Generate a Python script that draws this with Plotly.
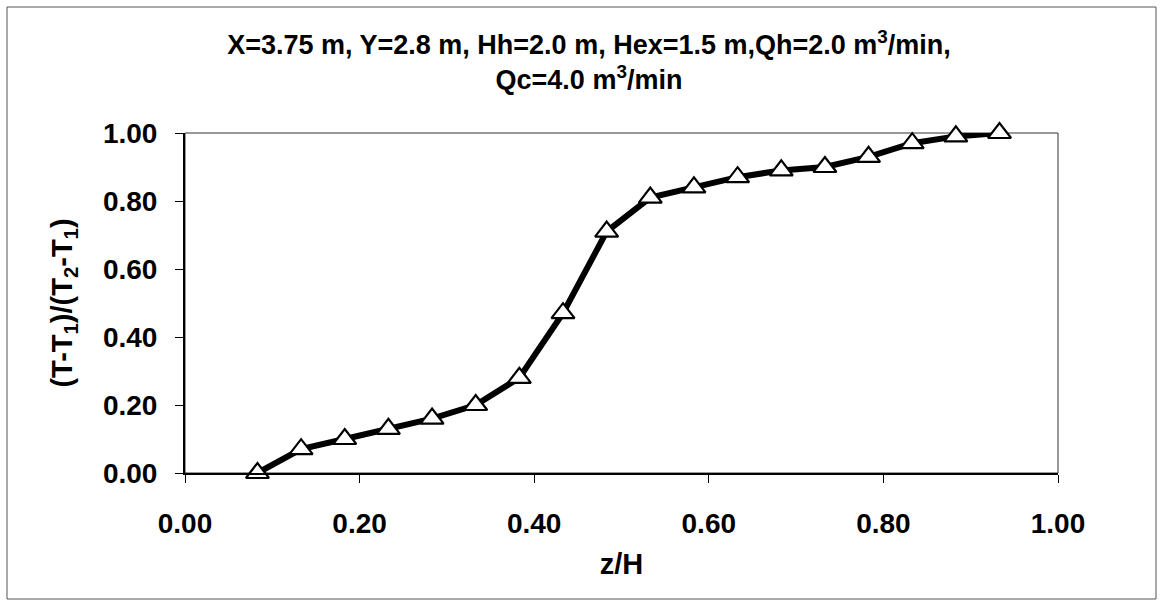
import plotly.graph_objects as go

# data
z_over_H = [0.083, 0.133, 0.183, 0.233, 0.283, 0.333, 0.383, 0.433, 0.483,
            0.533, 0.583, 0.633, 0.683, 0.733, 0.783, 0.833, 0.883, 0.933]
theta = [0.00, 0.07, 0.10, 0.13, 0.16, 0.20, 0.28, 0.47, 0.71,
         0.81, 0.84, 0.87, 0.89, 0.90, 0.93, 0.97, 0.99, 1.00]
tick_vals = [0.0, 0.2, 0.4, 0.6, 0.8, 1.0]

FONT = "Arial, 'Liberation Sans', sans-serif"

fig = go.Figure()
fig.add_trace(go.Scatter(
    x=z_over_H, y=theta, mode="lines+markers",
    line=dict(color="black", width=6),
    marker=dict(symbol="triangle-up", size=20, color="white",
                line=dict(color="black", width=2.2)),
    showlegend=False, cliponaxis=False,
))

W, H = 1162, 601
L, R, T, B = 185, 1058, 133, 473

fig.update_layout(
    width=W, height=H,
    margin=dict(l=L, r=W - R, t=T, b=H - B),
    paper_bgcolor="white", plot_bgcolor="white",
    font=dict(family=FONT, color="black"),
    title=dict(
        text="X=3.75 m, Y=2.8 m, Hh=2.0 m, Hex=1.5 m,Qh=2.0 m<sup>3</sup>/min,<br>Qc=4.0 m<sup>3</sup>/min",
        font=dict(family=FONT, size=27, weight="bold", color="black"),
        xref="container", x=589 / W, xanchor="center",
        yref="container", y=1 - 54 / H, yanchor="top",
    ),
    xaxis=dict(
        range=[0, 1], tickvals=tick_vals, tickformat=".2f",
        showgrid=False, zeroline=False,
        showline=True, linecolor="black", linewidth=2,
        ticks="outside", ticklen=8, tickwidth=1, tickcolor="black",
        ticklabelstandoff=16,
        tickfont=dict(family=FONT, size=28, weight="bold"),
        title=dict(text="z/H", font=dict(family=FONT, size=29, weight="bold"), standoff=16),
    ),
    yaxis=dict(
        range=[0, 1], tickvals=tick_vals, tickformat=".2f",
        showgrid=False, zeroline=False,
        showline=True, linecolor="black", linewidth=2,
        ticks="outside", ticklen=8, tickwidth=1, tickcolor="black",
        ticklabelstandoff=12,
        tickfont=dict(family=FONT, size=28, weight="bold"),
        title=dict(text="(T-T<sub>1</sub>)/(T<sub>2</sub>-T<sub>1</sub>)",
                   font=dict(family=FONT, size=29, weight="bold"), standoff=22),
    ),
    shapes=[
        # thin frame around plot area (top/right)
        dict(type="rect", xref="x domain", yref="y domain", x0=0, x1=1, y0=0, y1=1,
             line=dict(color="#333333", width=1), layer="below"),
        # outer chart border
        dict(type="rect", xref="paper", yref="paper",
             x0=(7 - L) / (R - L), x1=(1156 - L) / (R - L),
             y0=(B - 599) / (B - T), y1=(B - 7) / (B - T),
             line=dict(color="#555555", width=1), layer="below"),
    ],
)

fig.write_html("out.html")
